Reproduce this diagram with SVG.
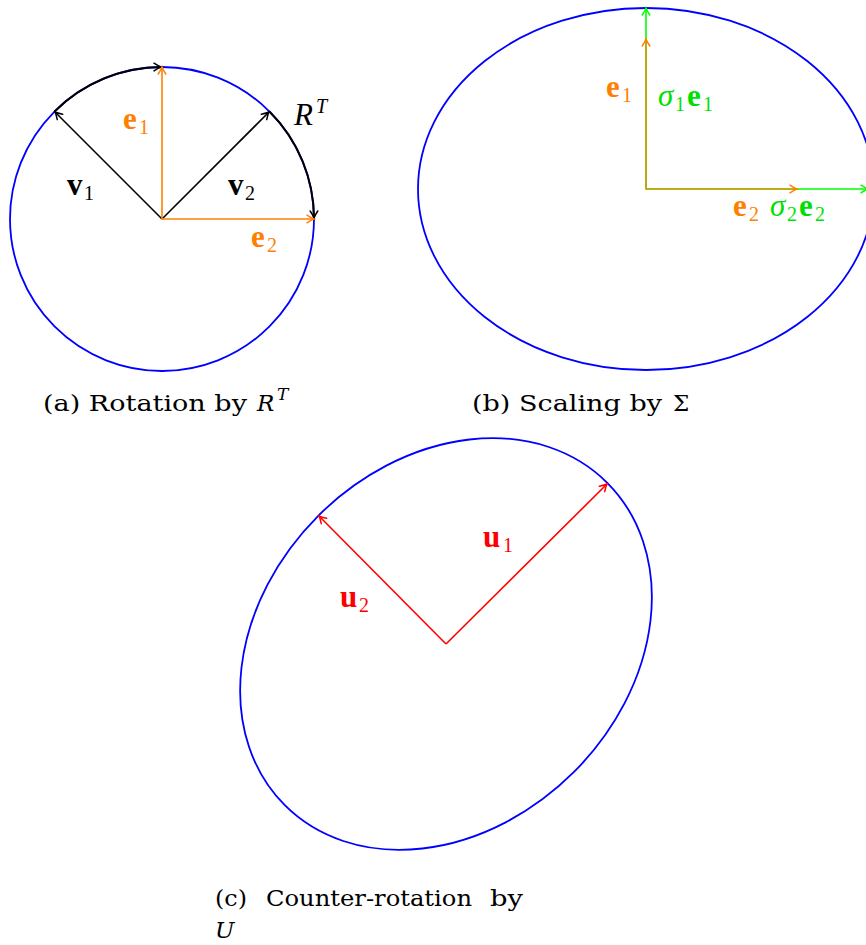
<svg xmlns="http://www.w3.org/2000/svg" width="866" height="945" viewBox="0 0 866 945">
<style>
.blue{fill:none;stroke:#0000ff;stroke-width:1.8}
.ln{fill:none;stroke-width:1.6}
.k{stroke:#000}
.o{stroke:#ff8000}
.g{stroke:#00ff00}
.r{stroke:#ff0000}
.arc{fill:none;stroke:#000;stroke-width:2}
.lb{font-family:"Liberation Serif","Times New Roman",serif;font-size:31px}
.b{font-weight:bold}
.i{font-style:italic}
.s{font-size:20px;font-weight:normal;font-style:normal}
.cap{font-family:"DejaVu Serif","Liberation Serif",serif;font-size:23px;fill:#000}
.tk{fill:#000}
.to{fill:#ff8000}
.tg{fill:#00e000}
.tr{fill:#ff0000}
</style>
<defs>
<marker id="ak" viewBox="-10 -6 12 12" markerWidth="12" markerHeight="12" refX="0" refY="0" orient="auto" markerUnits="userSpaceOnUse"><path d="M-7,-3.8 Q-2.5,-0.8 0,0 Q-2.5,0.8 -7,3.8" fill="none" stroke="#000" stroke-width="1.5" stroke-linecap="round"/></marker>
<marker id="ao" viewBox="-10 -6 12 12" markerWidth="12" markerHeight="12" refX="0" refY="0" orient="auto" markerUnits="userSpaceOnUse"><path d="M-7,-3.8 Q-2.5,-0.8 0,0 Q-2.5,0.8 -7,3.8" fill="none" stroke="#ff8000" stroke-width="1.5" stroke-linecap="round"/></marker>
<marker id="ag" viewBox="-10 -6 12 12" markerWidth="12" markerHeight="12" refX="0" refY="0" orient="auto" markerUnits="userSpaceOnUse"><path d="M-7,-3.8 Q-2.5,-0.8 0,0 Q-2.5,0.8 -7,3.8" fill="none" stroke="#00ff00" stroke-width="1.5" stroke-linecap="round"/></marker>
<marker id="ar" viewBox="-10 -6 12 12" markerWidth="12" markerHeight="12" refX="0" refY="0" orient="auto" markerUnits="userSpaceOnUse"><path d="M-7,-3.8 Q-2.5,-0.8 0,0 Q-2.5,0.8 -7,3.8" fill="none" stroke="#ff0000" stroke-width="1.5" stroke-linecap="round"/></marker>
</defs>

<g id="circle-a"><circle cx="162" cy="219" r="152" class="blue"/></g>
<g id="ellipse-b"><ellipse cx="646" cy="189" rx="228" ry="181" class="blue"/></g>
<g id="ellipse-c"><ellipse cx="446" cy="644" rx="228" ry="181" transform="rotate(-45 446 644)" class="blue"/></g>

<g id="connectors">
  <path class="arc" d="M54.5,111.5 A152,152 0 0 1 161,67" marker-end="url(#ak)"/>
  <path class="arc" d="M269.5,111.5 A152,152 0 0 1 314,218" marker-end="url(#ak)"/>
  <line class="ln k" x1="162" y1="219" x2="55" y2="112" marker-end="url(#ak)"/>
  <line class="ln k" x1="162" y1="219" x2="269" y2="112" marker-end="url(#ak)"/>
  <line class="ln o" x1="162" y1="219" x2="162" y2="67" marker-end="url(#ao)"/>
  <line class="ln o" x1="162" y1="219" x2="314" y2="219" marker-end="url(#ao)"/>

  <line class="ln g" x1="646" y1="189" x2="646" y2="8" marker-end="url(#ag)"/>
  <line class="ln g" x1="646" y1="189" x2="868" y2="189" marker-end="url(#ag)"/>
  <line class="ln o" x1="646" y1="189.5" x2="646" y2="39" marker-end="url(#ao)" stroke-opacity="0.85"/>
  <line class="ln o" x1="645.5" y1="189" x2="797" y2="189" marker-end="url(#ao)" stroke-opacity="0.85"/>

  <line class="ln r" x1="446" y1="644" x2="607" y2="484" marker-end="url(#ar)"/>
  <line class="ln r" x1="446" y1="644" x2="319" y2="516" marker-end="url(#ar)"/>
</g>

<g id="labels-a">
  <text x="123" y="129" class="lb to"><tspan class="b">e</tspan><tspan class="s" x="139" dy="5">1</tspan></text>
  <text x="67" y="195" class="lb tk"><tspan class="b">v</tspan><tspan class="s" x="84" dy="5">1</tspan></text>
  <text x="228" y="195" class="lb tk"><tspan class="b">v</tspan><tspan class="s" x="245" dy="5">2</tspan></text>
  <text x="251" y="247" class="lb to"><tspan class="b">e</tspan><tspan class="s" x="267" dy="5">2</tspan></text>
  <text x="294" y="125" class="lb tk"><tspan class="i">R</tspan><tspan class="s" style="font-style:italic" x="316" dy="-12">T</tspan></text>
</g>

<g id="labels-b">
  <text x="606" y="97" class="lb to"><tspan class="b">e</tspan><tspan class="s" x="622" dy="5">1</tspan></text>
  <text x="658" y="106" class="lb tg"><tspan class="i">σ</tspan><tspan class="s" x="675" dy="5">1</tspan><tspan class="b" x="687" dy="-5">e</tspan><tspan class="s" x="703" dy="5">1</tspan></text>
  <text x="733" y="216" class="lb to"><tspan class="b">e</tspan><tspan class="s" x="749" dy="5">2</tspan></text>
  <text x="770" y="216" class="lb tg"><tspan class="i">σ</tspan><tspan class="s" x="787" dy="5">2</tspan><tspan class="b" x="799" dy="-5">e</tspan><tspan class="s" x="815" dy="5">2</tspan></text>
</g>

<g id="labels-c">
  <text x="483" y="547" class="lb tr"><tspan class="b">u</tspan><tspan class="s" x="503" dy="5">1</tspan></text>
  <text x="340" y="607" class="lb tr"><tspan class="b">u</tspan><tspan class="s" x="359" dy="5">2</tspan></text>
</g>

<g id="captions">
  <text x="43" y="411" class="cap" textLength="204" lengthAdjust="spacingAndGlyphs">(a) Rotation by</text>
  <text x="257" y="411" class="cap i">R</text>
  <text x="277" y="400" class="cap i" style="font-size:17px">T</text>
  <text x="472" y="411" class="cap" textLength="190" lengthAdjust="spacingAndGlyphs">(b) Scaling by</text>
  <text x="673" y="411" class="cap">Σ</text>
  <text x="215" y="906" class="cap" textLength="32" lengthAdjust="spacingAndGlyphs">(c)</text>
  <text x="266" y="906" class="cap" textLength="206" lengthAdjust="spacingAndGlyphs">Counter-rotation</text>
  <text x="490" y="906" class="cap" textLength="33" lengthAdjust="spacingAndGlyphs">by</text>
  <text x="215" y="938" class="cap i">U</text>
</g>
</svg>
